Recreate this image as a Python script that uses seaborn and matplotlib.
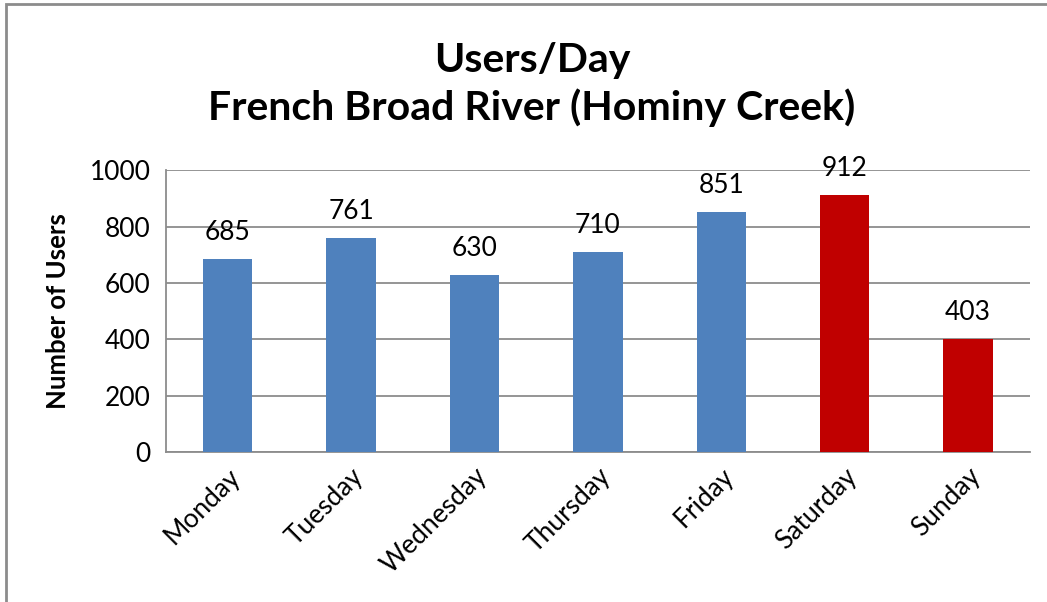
import matplotlib
matplotlib.use('Agg')
import matplotlib.pyplot as plt
import seaborn as sns
import pandas as pd
from matplotlib.patches import Rectangle

# --- Data ---
days = ['Monday', 'Tuesday', 'Wednesday', 'Thursday', 'Friday', 'Saturday', 'Sunday']
users = [685, 761, 630, 710, 851, 912, 403]
bar_colors = ['#4F81BD'] * 5 + ['#C00000'] * 2
y_ticks = [0, 200, 400, 600, 800, 1000]

df = pd.DataFrame({'Day': days, 'Users': users})

sns.set_style('white')
plt.rcParams['font.family'] = ['Lato', 'DejaVu Sans']

fig = plt.figure(figsize=(10.47, 6.02), dpi=100)
ax = fig.add_axes([0.1585, 0.249, 0.825, 0.468])

sns.barplot(data=df, x='Day', y='Users', hue='Day', palette=bar_colors,
            legend=False, width=0.4, saturation=1, linewidth=0, ax=ax, zorder=3)

# data labels
for c in ax.containers:
    ax.bar_label(c, fontsize=19, padding=10, color='black')

# axes styling (Excel look)
ax.set_ylim(0, 1000)
ax.set_xlim(-0.5, len(days) - 0.5)
ax.set_yticks(y_ticks)
ax.yaxis.grid(True, color='#8c8c8c', linewidth=1.3, zorder=0)
ax.set_axisbelow(True)
for s in ['top', 'right']:
    ax.spines[s].set_visible(False)
for s in ['left', 'bottom']:
    ax.spines[s].set_color('#8c8c8c')
    ax.spines[s].set_linewidth(1.3)

ax.tick_params(axis='y', length=7, width=1.3, color='#8c8c8c', labelsize=19, labelcolor='black', pad=4)
ax.tick_params(axis='x', which='major', length=0, labelsize=19, labelcolor='black', pad=8)
ax.set_xticks([i - 0.5 for i in range(len(days) + 1)], minor=True)
ax.tick_params(axis='x', which='minor', length=8, width=1.3, color='#8c8c8c')
plt.setp(ax.get_xticklabels(), rotation=45, ha='right', rotation_mode='anchor')

ax.set_xlabel('')
ax.set_ylabel('Number of Users', fontsize=18.5, fontweight='bold', color='black', labelpad=14)

fig.text(0.508, 0.859, 'Users/Day\nFrench Broad River (Hominy Creek)', color='black',
         ha='center', va='center', fontsize=29.5, fontweight='bold', linespacing=1.3)

# chart border (clipped at right/bottom like the reference)
fig.add_artist(Rectangle((6 / 1047, -0.1), 1.2, 1.1 - 4 / 602, transform=fig.transFigure,
                         fill=False, edgecolor='#8c8c8c', linewidth=2, clip_on=False))

fig.savefig('out.png', dpi=100, facecolor='white')
